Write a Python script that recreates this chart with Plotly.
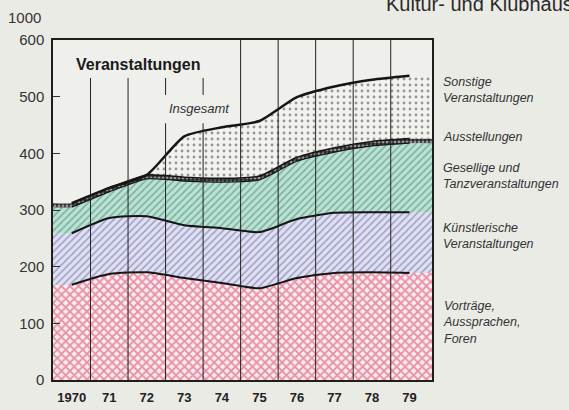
import plotly.graph_objects as go

years = [1970, 1971, 1972, 1973, 1974, 1975, 1976, 1977, 1978, 1979]
year_labels = ["1970", "71", "72", "73", "74", "75", "76", "77", "78", "79"]

vortraege = [168, 187, 190, 180, 171, 162, 180, 189, 190, 189]
kuenstlerisch = [91, 99, 99, 93, 97, 99, 104, 106, 106, 107]
gesellig = [46, 46, 66, 78, 81, 92, 102, 107, 117, 122]
ausstellungen = [7, 7, 7, 7, 7, 7, 7, 8, 8, 8]
sonstige = [0, 0, 0, 72, 90, 97, 106, 108, 109, 111]

y_ticks = [0, 100, 200, 300, 400, 500, 600]

X_LEFT, X_RIGHT = 1969.5, 1979.6
FONT = "Liberation Sans"


def cumulate(*series):
    out = []
    run = [0] * len(years)
    for s in series:
        run = [a + b for a, b in zip(run, s)]
        out.append(run)
    return out


tops = cumulate(vortraege, kuenstlerisch, gesellig, ausstellungen, sonstige)

# fills reach the frame edges, the lines stop at first/last year
xs_ext = [X_LEFT] + years + [X_RIGHT]


def ext(v):
    return [v[0]] + v + [v[-1]]


fills = [
    dict(shape="x", fg="#d4345c", bg="#fbeef1", size=6, sol=0.52),
    dict(shape="/", fg="#5c5c8e", bg="#e0e0f4", size=5, sol=0.3),
    dict(shape="/", fg="#4c7470", bg="#b8e4d3", size=5, sol=0.32),
    dict(shape=".", fg="#ffffff", bg="#2a2a2a", size=4, sol=0.4),
    dict(shape=".", fg="#3a3a3a", bg="#f2f2ef", size=6, sol=0.18),
]

fig = go.Figure()

for i, (top, f) in enumerate(zip(tops, fills)):
    fig.add_trace(go.Scatter(
        x=xs_ext, y=ext(top), mode="lines",
        line=dict(width=0, shape="spline", smoothing=0.6),
        fill="tozeroy" if i == 0 else "tonexty",
        fillcolor=f["bg"],
        fillpattern=dict(shape=f["shape"], fgcolor=f["fg"], bgcolor=f["bg"],
                         size=f["size"], solidity=f["sol"]),
        hoverinfo="skip", showlegend=False,
    ))

line_widths = [2, 2, 1.2, 1.5, 2.5]
for top, w in zip(tops, line_widths):
    fig.add_trace(go.Scatter(
        x=years, y=top, mode="lines",
        line=dict(color="#151515", width=w, shape="spline", smoothing=0.6),
        hoverinfo="skip", showlegend=False,
    ))

# vertical year separators, broken around the titles
shapes = []
for i, yr in enumerate(years[:-1]):
    xb = yr + 0.5
    if i < 2:
        segs = [(0, 533)]
    elif i < 4:
        segs = [(0, 453), (503, 533)]
    else:
        segs = [(0, 600)]
    for y0, y1 in segs:
        shapes.append(dict(type="line", xref="x", yref="y", x0=xb, x1=xb,
                           y0=y0, y1=y1, line=dict(color="#222", width=1),
                           layer="above"))

labels = [
    ("Sonstige<br>Veranstaltungen", 511),
    ("Ausstellungen", 429),
    ("Gesellige und<br>Tanzveranstaltungen", 360),
    ("Künstlerische<br>Veranstaltungen", 254),
    ("Vorträge,<br>Aussprachen,<br>Foren", 102),
]
annotations = [
    dict(text=t, xref="paper", x=1.0, xshift=9, xanchor="left", yref="y", y=y,
         yanchor="middle", showarrow=False, align="left",
         font=dict(family=FONT, size=12.5, color="#333", style="italic"))
    for t, y in labels
]
annotations += [
    dict(text="<b>Veranstaltungen</b>", xref="x", x=1970.07, xanchor="left",
         yref="y", y=556, showarrow=False,
         font=dict(family=FONT, size=16, color="#1a1a1a")),
    dict(text="Insgesamt", xref="x", x=1973.41, yref="y", y=480, showarrow=False,
         font=dict(family=FONT, size=13, color="#333", style="italic")),
    dict(text="1000", xref="paper", x=-0.027, xanchor="right", yref="paper",
         y=1.065, yanchor="middle", showarrow=False,
         font=dict(family=FONT, size=15, color="#333")),
    dict(text="Kultur- und Klubhäuser", xref="paper", x=0.874, xanchor="left",
         yref="paper", y=1.105, yanchor="middle", showarrow=False,
         font=dict(family=FONT, size=20, color="#2a2a2a")),
]

fig.update_layout(
    width=569, height=410,
    margin=dict(l=53, r=137, t=40, b=30),
    paper_bgcolor="#ebebe6", plot_bgcolor="#efefeb",
    shapes=shapes, annotations=annotations,
    xaxis=dict(range=[X_LEFT, X_RIGHT], tickvals=years,
               ticktext=["<b>%s</b>" % t for t in year_labels],
               showgrid=False, zeroline=False, showline=True, mirror=True,
               linecolor="#1e1e1e", linewidth=2, ticks="",
               ticklabelstandoff=4, automargin=False,
               tickfont=dict(family=FONT, size=13, color="#222")),
    yaxis=dict(range=[0, 600], tickvals=y_ticks, showgrid=False, zeroline=False,
               showline=True, mirror=True, linecolor="#1e1e1e", linewidth=1.5,
               ticks="inside", ticklen=7, tickcolor="#333",
               ticklabelstandoff=4, automargin=False,
               tickfont=dict(family=FONT, size=15, color="#333")),
)

# page has a default 8px body margin; drop it so the figure sits at the corner
fig.write_html("out.html", config={"displayModeBar": False},
               post_script="document.body.style.margin='0';")
